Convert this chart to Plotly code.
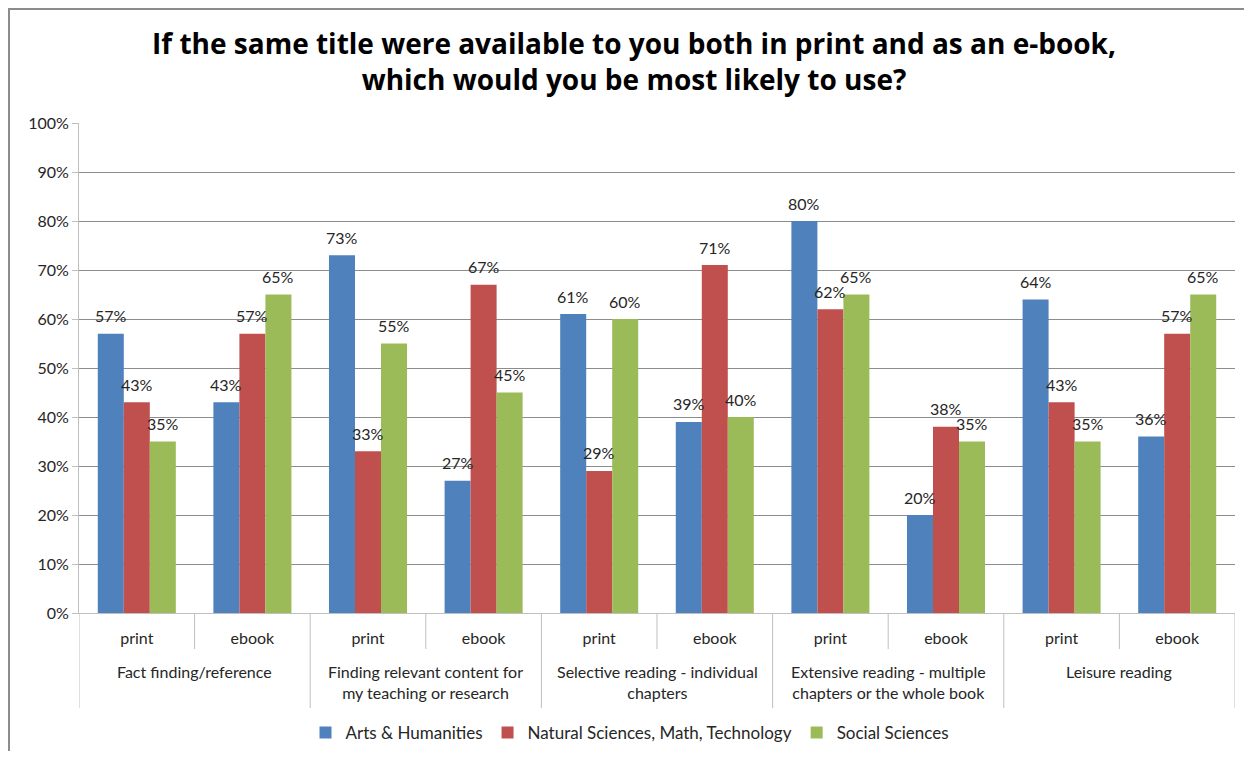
import plotly.graph_objects as go

groups = ["Fact finding/reference",
          "Finding relevant content for<br>my teaching or research",
          "Selective reading - individual<br>chapters",
          "Extensive reading - multiple<br>chapters or the whole book",
          "Leisure reading"]
subs = ["print", "ebook"]
series_names = ["Arts & Humanities", "Natural Sciences, Math, Technology", "Social Sciences"]
arts = [0.57, 0.43, 0.73, 0.27, 0.61, 0.39, 0.80, 0.20, 0.64, 0.36]
natsci = [0.43, 0.57, 0.33, 0.67, 0.29, 0.71, 0.62, 0.38, 0.43, 0.57]
social = [0.35, 0.65, 0.55, 0.45, 0.60, 0.40, 0.65, 0.35, 0.35, 0.65]
colors = ["#4F81BD", "#C0504D", "#9BBB59"]
y_ticks = [0, 0.1, 0.2, 0.3, 0.4, 0.5, 0.6, 0.7, 0.8, 0.9, 1.0]

FONT = "Lato, 'Open Sans', sans-serif"
TFONT = "'Open Sans', Lato, sans-serif"
OFF = 8  # page body margin
W, H = 1252 - 2 * OFF, 759 - 2 * OFF
# plot area in page pixels
L, R, T, B = 79, 1235, 123, 613
pw, ph = R - L, B - T

def px(xp):
    return (xp - L) / pw

def py(yp):
    return (B - yp) / ph

n = len(groups) * len(subs)
xpos = list(range(n))
ticktext = [subs[i % 2] for i in range(n)]
bargap = 0.325
bw = (1 - bargap) / 3

fig = go.Figure()
annotations = []
for k, (name, vals, col) in enumerate(zip(series_names, [arts, natsci, social], colors)):
    fig.add_trace(go.Bar(
        x=xpos, y=vals, name=name, marker=dict(color=col, line=dict(width=0)),
    ))
    for i, v in enumerate(vals):
        annotations.append(dict(xref="x", yref="y", x=i + (k - 1) * bw, y=v,
                                text=f"{round(v * 100)}%", showarrow=False,
                                xanchor="center", yanchor="middle", yshift=18,
                                font=dict(family=FONT, size=16, color="#262626")))

shapes = []
for g in range(len(groups)):
    shapes.append(dict(type="line", xref="x", yref="paper", x0=2 * g + 0.5, x1=2 * g + 0.5,
                       y0=0, y1=py(649), line=dict(color="#BFBFBF", width=1)))
for g in range(len(groups) + 1):
    shapes.append(dict(type="line", xref="x", yref="paper", x0=2 * g - 0.5, x1=2 * g - 0.5,
                       y0=0, y1=py(708), line=dict(color="#BFBFBF", width=1)))
# outer chart border (left and top edges visible)
shapes.append(dict(type="rect", xref="paper", yref="paper", x0=px(OFF + 1), x1=px(1300),
                   y0=py(800), y1=py(OFF + 1),
                   line=dict(color="#8C8C8C", width=2), layer="below"))

for g, label in enumerate(groups):
    annotations.append(dict(xref="x", yref="paper", x=2 * g + 0.5, y=py(660), text=label,
                            showarrow=False, xanchor="center", yanchor="top",
                            font=dict(family=FONT, size=16, color="#262626")))

fig.update_layout(
    width=W, height=H,
    margin=dict(l=L - OFF, r=W - (R - OFF), t=T - OFF, b=H - (B - OFF), pad=0, autoexpand=False),
    paper_bgcolor="white", plot_bgcolor="white",
    barmode="group", bargap=bargap, bargroupgap=0,
    title=dict(text="If the same title were available to you both in print and as an e-book,<br>which would you be most likely to use?",
               x=(634 - OFF) / W, xref="container", xanchor="center",
               y=1 - (54 - OFF) / H, yref="container", yanchor="middle",
               font=dict(family=TFONT, size=28, color="#000000", weight="bold")),
    xaxis=dict(range=[-0.5, n - 0.5], tickvals=xpos, ticktext=ticktext, showgrid=False,
               zeroline=False, showline=True, linecolor="#BFBFBF", ticks="",
               ticklabelstandoff=11, automargin=False,
               tickfont=dict(family=FONT, size=16, color="#262626")),
    yaxis=dict(range=[0, 1], tickvals=y_ticks, tickformat=".0%", showgrid=True,
               gridcolor="#8C8C8C", gridwidth=1, zeroline=False, showline=True,
               linecolor="#BFBFBF", ticks="outside", ticklen=6, tickcolor="#BFBFBF",
               automargin=False,
               tickfont=dict(family=FONT, size=16, color="#262626")),
    legend=dict(orientation="h", xref="container", yref="container",
                x=(630 - OFF) / W, xanchor="center", y=1 - (733 - OFF) / H, yanchor="middle",
                font=dict(family=FONT, size=17, color="#262626"), itemwidth=30),
    shapes=shapes, annotations=annotations,
    showlegend=True,
)
fig.write_html("out.html")
